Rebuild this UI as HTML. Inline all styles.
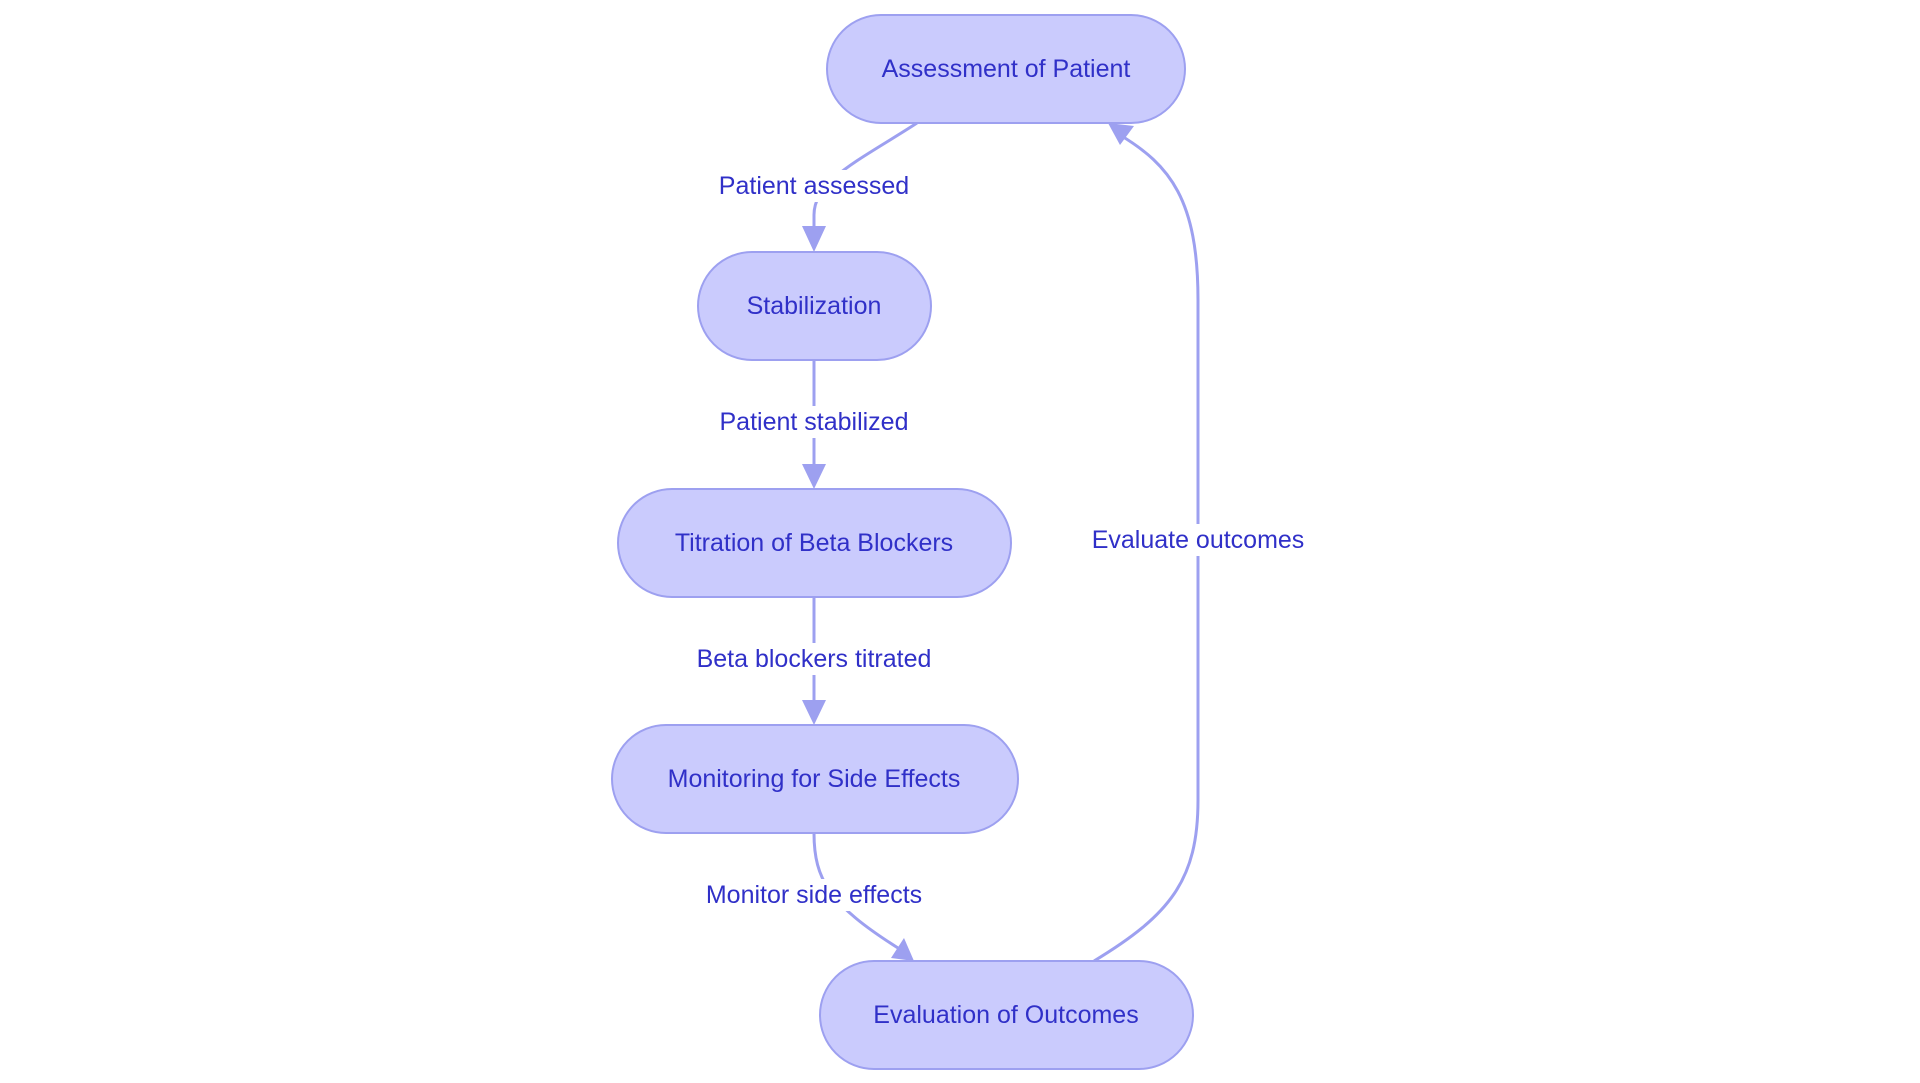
<!DOCTYPE html>
<html><head><meta charset="utf-8"><style>
html,body{margin:0;padding:0;background:#fff;}
svg{display:block;}
text{font-family:"Liberation Sans",sans-serif;font-size:25px;fill:#3030c8;text-anchor:middle;dominant-baseline:central;}
</style></head><body>
<svg width="1920" height="1083" viewBox="0 0 1920 1083" xmlns="http://www.w3.org/2000/svg">
<defs>
<marker id="a" viewBox="0 0 10 10" refX="9" refY="5" markerWidth="8" markerHeight="8" markerUnits="userSpaceOnUse" orient="auto" overflow="visible">
<path d="M0,0 L10,5 L0,10 z" fill="#9da0f0" transform="scale(2.4) translate(-5,-5) translate(5,5)"/>
</marker>
</defs>
<g fill="none" stroke="#9da0f0" stroke-width="3">
<path d="M917,123 C860,160 814,180 814,215 L814,228"/>
<path d="M814,360 L814,466"/>
<path d="M814,597 L814,702"/>
<path d="M814,833 C814,880 830,905 898,948"/>
<path d="M1094,961 C1170,915 1198,880 1198,800 L1198,300 C1198,200 1170,165 1120,135"/>
</g>
<g fill="#9da0f0">
<polygon d="" />
<polygon points="802,226 826,226 814,252"/>
<polygon points="802,464 826,464 814,489"/>
<polygon points="802,700 826,700 814,725"/>
<polygon points="891,958 904,938 914,961"/>
<polygon points="1108,123 1134,126 1120,145"/>
</g>
<g fill="#cacbfd" stroke="#9da0f0" stroke-width="2">
<rect x="827" y="15" width="358" height="108" rx="54"/>
<rect x="698" y="252" width="233" height="108" rx="54"/>
<rect x="618" y="489" width="393" height="108" rx="54"/>
<rect x="612" y="725" width="406" height="108" rx="54"/>
<rect x="820" y="961" width="373" height="108" rx="54"/>
</g>
<g fill="#fff">
<rect x="700" y="170" width="228" height="32"/>
<rect x="700" y="406" width="228" height="32"/>
<rect x="672" y="643" width="284" height="32"/>
<rect x="684" y="879" width="260" height="32"/>
<rect x="1074" y="524" width="248" height="32"/>
</g>
<text x="1006" y="69">Assessment of Patient</text>
<text x="814" y="306">Stabilization</text>
<text x="814" y="543">Titration of Beta Blockers</text>
<text x="814" y="779">Monitoring for Side Effects</text>
<text x="1006" y="1015">Evaluation of Outcomes</text>
<text x="814" y="186">Patient assessed</text>
<text x="814" y="422">Patient stabilized</text>
<text x="814" y="659">Beta blockers titrated</text>
<text x="814" y="895">Monitor side effects</text>
<text x="1198" y="540">Evaluate outcomes</text>
</svg>
</body></html>
